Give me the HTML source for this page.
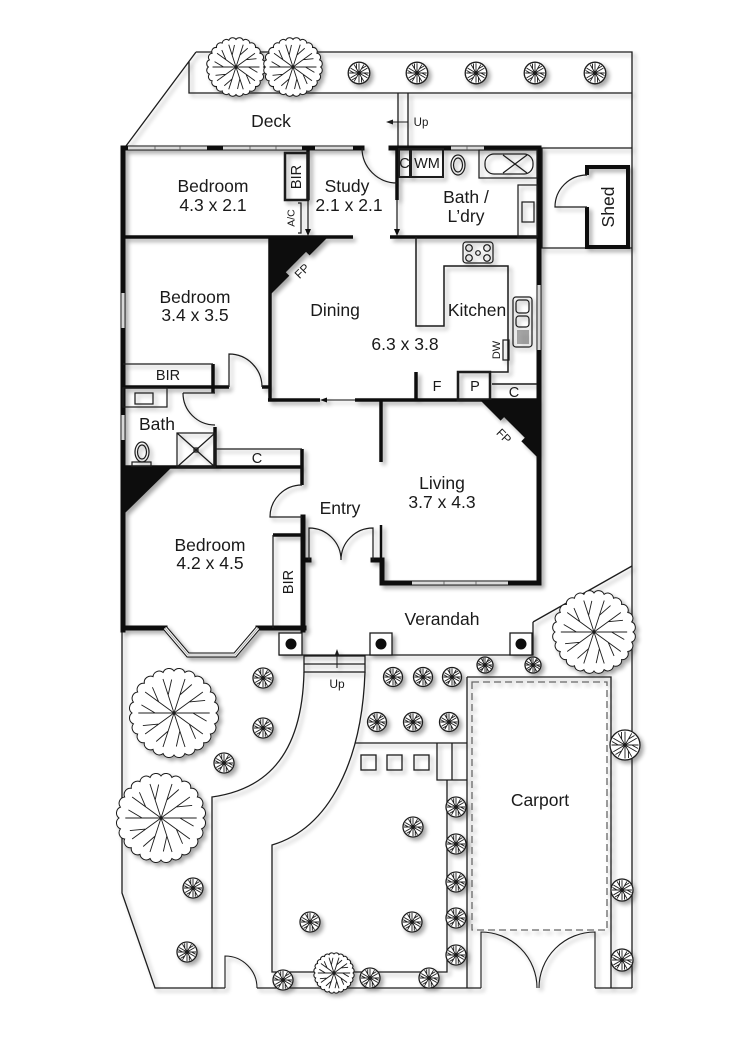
<!DOCTYPE html>
<html><head><meta charset="utf-8"><style>
html,body{margin:0;padding:0;background:#fff}
svg{display:block}
text{font-family:"Liberation Sans",Arial,sans-serif;fill:#1a1a1a}
</style></head><body>
<svg width="750" height="1060" viewBox="0 0 750 1060" xmlns="http://www.w3.org/2000/svg">
<defs>
<filter id="sh" x="-5%" y="-5%" width="110%" height="110%">
<feGaussianBlur in="SourceAlpha" stdDeviation="2"/>
<feOffset dx="3" dy="3"/>
<feComponentTransfer><feFuncA type="linear" slope="0.35"/></feComponentTransfer>
<feMerge><feMergeNode/><feMergeNode in="SourceGraphic"/></feMerge>
</filter>
<g id="st"><circle r="10" fill="#fff" stroke="#1a1a1a" stroke-width="1.3" vector-effect="non-scaling-stroke"/><path d="M0,0L9,0M0,0L7.79,4.5M0,0L4.5,7.79M0,0L0,9M0,0L-4.5,7.79M0,0L-7.79,4.5M0,0L-9,0M0,0L-7.79,-4.5M0,0L-4.5,-7.79M0,0L0,-9M0,0L4.5,-7.79M0,0L7.79,-4.5M4.5,0L8.69,2.33M2.25,3.9L2.33,8.69M-2.25,3.9L-6.36,6.36M-4.5,0L-8.69,-2.33M-2.25,-3.9L-2.33,-8.69M2.25,-3.9L6.36,-6.36" fill="none" stroke="#1a1a1a" stroke-width="0.9" vector-effect="non-scaling-stroke"/></g>
<g id="bt"><path d="M20,0 A3,3 0 0 1 19.32,5.18 A3,3 0 0 1 17.32,10 A3,3 0 0 1 14.14,14.14 A3,3 0 0 1 10,17.32 A3,3 0 0 1 5.18,19.32 A3,3 0 0 1 0,20 A3,3 0 0 1 -5.18,19.32 A3,3 0 0 1 -10,17.32 A3,3 0 0 1 -14.14,14.14 A3,3 0 0 1 -17.32,10 A3,3 0 0 1 -19.32,5.18 A3,3 0 0 1 -20,0 A3,3 0 0 1 -19.32,-5.18 A3,3 0 0 1 -17.32,-10 A3,3 0 0 1 -14.14,-14.14 A3,3 0 0 1 -10,-17.32 A3,3 0 0 1 -5.18,-19.32 A3,3 0 0 1 0,-20 A3,3 0 0 1 5.18,-19.32 A3,3 0 0 1 10,-17.32 A3,3 0 0 1 14.14,-14.14 A3,3 0 0 1 17.32,-10 A3,3 0 0 1 19.32,-5.18 A3,3 0 0 1 20,0Z" fill="#fff" stroke="#1a1a1a" stroke-width="1" vector-effect="non-scaling-stroke"/><path d="M0,0L17,0M0,0L13.75,9.99M0,0L5.25,16.17M0,0L-5.25,16.17M0,0L-13.75,9.99M0,0L-17,0M0,0L-13.75,-9.99M0,0L-5.25,-16.17M0,0L5.25,-16.17M0,0L13.75,-9.99M9,0L15.52,3.87M7.28,5.29L10.28,12.26M2.78,8.56L1.12,15.96M-2.78,8.56L-8.48,13.57M-7.28,5.29L-14.83,5.99M-9,0L-15.52,-3.87M-7.28,-5.29L-10.28,-12.26M-2.78,-8.56L-1.12,-15.96M2.78,-8.56L8.48,-13.57M7.28,-5.29L14.83,-5.99" fill="none" stroke="#1a1a1a" stroke-width="0.9" vector-effect="non-scaling-stroke"/></g>
<path id="wins" d="M128,148H207M223,148H302M315,148H353M451,148H484M123,293V328M123,415V440M539,285V350M412,583H508M165,628L188,655H235L258,628"/>
</defs>
<rect width="750" height="1060" fill="#fff"/>
<g filter="url(#sh)">
<g fill="none" stroke="#1e1e1e" stroke-width="1.3">
<path d="M196,52H632V988M196,52L123,150M189,61V93H632M398,93V148M408,93V148M541,148H632M541,248H632M542,148V248"/>
<path d="M122,630V893L155,988H225M257,988H481M595,988H632M533,622L632,566"/>
<path d="M304,672C302,760 262,790 212,797V988M365,672C362,760 330,828 272,845V972H447V780M355,743H467M437,743V780H467M452,743V780"/>
<rect x="361" y="755" width="15" height="15"/><rect x="387" y="755" width="15" height="15"/><rect x="414" y="755" width="15" height="15"/>
<path d="M467,677H611V988M467,677V988"/>
<path d="M481,988V932A56,56 0 0 1 537,988M595,988V932A56,56 0 0 0 539,988" stroke-width="1.1"/>
<path d="M225,988V956A32,32 0 0 1 257,988" stroke-width="1.1"/>
<rect x="304" y="656" width="61" height="16"/><path d="M304,664H365"/>
<path d="M279,655H533V622"/>
</g>
<rect x="472" y="682" width="135" height="248" fill="none" stroke="#666" stroke-width="1.3" stroke-dasharray="7,4"/>
<path d="M337,668V654" stroke="#1e1e1e" stroke-width="1"/><path d="M337,649L334.5,656H339.5Z" fill="#1e1e1e"/>
<path d="M391,122H408" stroke="#1e1e1e" stroke-width="1"/><path d="M386,122L393,119.5V124.5Z" fill="#1e1e1e"/>
<g stroke="#1e1e1e" stroke-width="1.3" fill="#fff"><rect x="279" y="633" width="23" height="22"/><rect x="370" y="633" width="22" height="22"/><rect x="510" y="633" width="22" height="22"/></g>
<g fill="#111"><circle cx="291" cy="644" r="5.5"/><circle cx="381" cy="644" r="5.5"/><circle cx="521" cy="644" r="5.5"/></g>
<path d="M123,148H362M391,148H539M123,148V630M539,148V583M123,628H165M258,628H304M303,517V630M303,560H309M373,560H382V583H539" fill="none" stroke="#111" stroke-width="5" stroke-linecap="square"/>
<path d="M123,237H353M390,237H539M308,148V200M397,148V200M270,237V400M268,400H320M355,400H539M381,400V462M123,387H229M262,387H270M213,364V393M215,427V467M123,467H302M302,449V485M416,372V400M273,535H302" fill="none" stroke="#111" stroke-width="3.5"/>
<path d="M381,525V560" stroke="#111" stroke-width="2.5"/>
<use href="#wins" fill="none" stroke="#111" stroke-width="5"/>
<use href="#wins" fill="none" stroke="#f0f0f0" stroke-width="3"/>
<use href="#wins" fill="none" stroke="#999" stroke-width="0.6"/>
<path d="M155,146V150M180,146V150M250,146V150M276,146V150M467,146V150M444,581V585M476,581V585" stroke="#555" stroke-width="0.8"/>
<g fill="none" stroke="#1a1a1a" stroke-width="1.2">
<rect x="285" y="153" width="23" height="47" stroke-width="2.5"/>
<path d="M308,200V230M397,200V230"/>
<path d="M298,203H301V233H298"/>
<path d="M362,148A35,35 0 0 0 397,183"/>
<path d="M229,387V354A33,33 0 0 1 262,387"/>
<path d="M183,393H215M183,393A32,32 0 0 0 215,425"/>
<path d="M302,517H270A32,32 0 0 1 302,485"/>
<path d="M309,560V528A32,32 0 0 1 341,560M373,560V528A32,32 0 0 0 341,560"/>
<path d="M123,364H213M215,449H302M273,535V628"/>
<path d="M416,237V326H444V266H508V372H458M492,384H537" stroke-width="1.5"/>
<rect x="458" y="372" width="32" height="28" stroke-width="2.5"/>
<rect x="399" y="149" width="11" height="28" stroke-width="2"/>
<rect x="411" y="149" width="32" height="28" stroke-width="2"/>
<ellipse cx="458" cy="165" rx="7" ry="10"/><ellipse cx="458" cy="165" rx="4.5" ry="7"/>
<rect x="479" y="150" width="58" height="28"/>
<rect x="485" y="154" width="48" height="20" rx="9"/>
<path d="M503,155L527,173M503,173L527,155"/>
<rect x="518" y="185" width="19" height="52"/><rect x="522" y="202" width="12" height="20"/>
<rect x="463" y="242" width="30" height="21" rx="3"/>
<circle cx="469" cy="248" r="3.3"/><circle cx="487" cy="248" r="3.3"/><circle cx="469" cy="258" r="3.3"/><circle cx="487" cy="258" r="3.3"/><circle cx="478" cy="253" r="2.3"/>
<rect x="513" y="297" width="19" height="50" rx="3"/>
<rect x="516" y="300" width="13" height="13" rx="3"/><rect x="516" y="316" width="13" height="11" rx="3"/>
<path d="M518,330V344M520,330V344M522,330V344M524,330V344M526,330V344M528,330V344" stroke-width="0.7"/>
<rect x="503" y="340" width="6" height="20"/>
<rect x="123" y="388" width="44" height="19"/><rect x="135" y="393" width="18" height="11"/>
<ellipse cx="142" cy="452" rx="7" ry="10"/><ellipse cx="142" cy="452" rx="4.5" ry="7"/>
<rect x="132" y="462" width="19" height="5"/>
<rect x="177" y="433" width="38" height="34"/><path d="M177,433L215,467M215,433L177,467"/><rect x="194" y="448" width="4" height="4"/>
</g>
<path d="M308,236L305,229H311ZM397,236L394,229H400Z" fill="#111"/>
<path d="M325,400H355" stroke="#111" stroke-width="1"/><path d="M320,400L327,397.5V402.5Z" fill="#111"/>
<path d="M587,175V167H628V247H587V207" fill="none" stroke="#111" stroke-width="4"/>
<path d="M587,207H555A32,32 0 0 1 587,175" fill="none" stroke="#1a1a1a" stroke-width="1.2"/>
<polygon points="269,238 327,238 309.6,255.4 306,251.9 285.8,272.2 289.3,275.7 269,296" fill="#111"/>
<polygon points="480,400 539,400 539,459 521.3,441.3 524.8,437.8 504.1,417.1 500.6,420.6" fill="#111"/>
<polygon points="123,467 172,467 123,515" fill="#111"/>
<use href="#bt" transform="translate(236,67) scale(1.38)"/>
<use href="#bt" transform="translate(293,67) scale(1.38)"/>
<use href="#bt" transform="translate(594,632) scale(1.95)"/>
<use href="#bt" transform="translate(174,713) scale(2.1)"/>
<use href="#bt" transform="translate(161,818) scale(2.1)"/>
<use href="#bt" transform="translate(334,973) scale(0.95)"/>
<use href="#st" transform="translate(359,73) scale(1.08)"/>
<use href="#st" transform="translate(417,73) scale(1.08)"/>
<use href="#st" transform="translate(476,73) scale(1.08)"/>
<use href="#st" transform="translate(535,73) scale(1.08)"/>
<use href="#st" transform="translate(595,73) scale(1.08)"/>
<use href="#st" transform="translate(263,678)"/>
<use href="#st" transform="translate(263,728)"/>
<use href="#st" transform="translate(224,763)"/>
<use href="#st" transform="translate(193,888)"/>
<use href="#st" transform="translate(187,952)"/>
<use href="#st" transform="translate(393,677) scale(0.95)"/>
<use href="#st" transform="translate(423,677) scale(0.95)"/>
<use href="#st" transform="translate(452,677) scale(0.95)"/>
<use href="#st" transform="translate(485,665) scale(0.8)"/>
<use href="#st" transform="translate(533,665) scale(0.8)"/>
<use href="#st" transform="translate(377,722) scale(0.95)"/>
<use href="#st" transform="translate(413,722) scale(0.95)"/>
<use href="#st" transform="translate(449,722) scale(0.95)"/>
<use href="#st" transform="translate(413,827)"/>
<use href="#st" transform="translate(456,807)"/>
<use href="#st" transform="translate(456,844)"/>
<use href="#st" transform="translate(456,882)"/>
<use href="#st" transform="translate(456,918)"/>
<use href="#st" transform="translate(456,955)"/>
<use href="#st" transform="translate(310,922)"/>
<use href="#st" transform="translate(412,922)"/>
<use href="#st" transform="translate(283,980)"/>
<use href="#st" transform="translate(370,978)"/>
<use href="#st" transform="translate(429,978)"/>
<use href="#st" transform="translate(625,745) scale(1.5)"/>
<use href="#st" transform="translate(622,890) scale(1.1)"/>
<use href="#st" transform="translate(622,960) scale(1.1)"/>
</g>
<g font-size="17.5" text-anchor="middle">
<text x="271" y="127">Deck</text>
<text x="213" y="192">Bedroom</text><text x="213" y="211">4.3 x 2.1</text>
<text x="347" y="192">Study</text><text x="349" y="211">2.1 x 2.1</text>
<text x="466" y="203">Bath /</text><text x="466" y="222">L’dry</text>
<text x="195" y="303">Bedroom</text><text x="195" y="321">3.4 x 3.5</text>
<text x="335" y="316">Dining</text>
<text x="477" y="316">Kitchen</text>
<text x="405" y="350">6.3 x 3.8</text>
<text x="157" y="430">Bath</text>
<text x="442" y="489">Living</text><text x="442" y="508">3.7 x 4.3</text>
<text x="340" y="514">Entry</text>
<text x="210" y="551">Bedroom</text><text x="210" y="569">4.2 x 4.5</text>
<text x="442" y="625">Verandah</text>
<text x="540" y="806">Carport</text>
<text x="608" y="207" dy="0.35em" transform="rotate(-90 608 207)">Shed</text>
</g>
<g font-size="14.5" text-anchor="middle">
<text x="404.5" y="168">C</text><text x="427" y="168">WM</text>
<text x="296" y="177" dy="0.35em" transform="rotate(-90 296 177)">BIR</text>
<text x="168" y="380">BIR</text>
<text x="257" y="463">C</text>
<text x="437" y="391">F</text><text x="475" y="391">P</text><text x="514" y="397">C</text>
<text x="288" y="582" dy="0.35em" transform="rotate(-90 288 582)">BIR</text>
</g>
<g text-anchor="middle">
<text x="302" y="271" font-size="12" dy="0.35em" transform="rotate(-45 302 271)">FP</text>
<text x="504" y="436" font-size="12" dy="0.35em" transform="rotate(45 504 436)">FP</text>
<text x="496" y="350" font-size="11" dy="0.35em" transform="rotate(-90 496 350)">DW</text>
<text x="291" y="218" font-size="10.5" dy="0.35em" transform="rotate(-90 291 218)">A/C</text>
<text x="421" y="126" font-size="11.5">Up</text>
<text x="337" y="688" font-size="12">Up</text>
</g>
</svg>
</body></html>
